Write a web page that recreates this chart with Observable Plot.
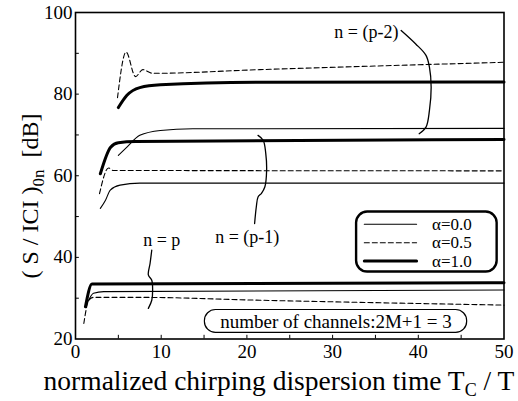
<!DOCTYPE html>
<html><head><meta charset="utf-8">
<script src="https://cdn.jsdelivr.net/npm/d3@7"></script>
<script src="https://cdn.jsdelivr.net/npm/@observablehq/plot@0.6"></script>
<style>
body{margin:0;background:#fff}
</style>
</head><body><div id="chart"></div>
<script>
// ---- tick labels ----
const xTicks = [0, 10, 20, 30, 40, 50];
const yTicks = [20, 40, 60, 80, 100];
const xMinorTicks = [5, 10, 15, 20, 25, 30, 35, 40, 45];
const yMinorTicks = [30, 40, 50, 60, 70, 80, 90];

// ---- series: n = (p-2) ----
const p2_a00_x = [5.0, 6.0, 7.5, 9.9, 13.7, 50];
const p2_a00_y = [65.0, 67.0, 69.9, 71.1, 71.5, 71.6];
const p2_a05_x = [4.9, 5.9, 7.0, 7.85, 9.0, 21.5, 50];
const p2_a05_y = [79.1, 90.3, 84.3, 86.0, 85.1, 86.0, 87.8];
const p2_a10_x = [5.0, 6.0, 7.5, 9.9, 21.5, 50];
const p2_a10_y = [76.7, 79.7, 81.6, 82.3, 82.9, 83.0];
// ---- series: n = (p-1) ----
const p1_a00_x = [2.9, 3.5, 4.06, 5.2, 7.5, 50];
const p1_a00_y = [52.0, 54.0, 56.5, 57.7, 58.2, 58.2];
const p1_a05_x = [2.8, 3.86, 4.4, 50];
const p1_a05_y = [55.6, 61.9, 61.3, 61.2];
const p1_a10_x = [2.9, 4.1, 5.0, 7.0, 50];
const p1_a10_y = [60.5, 67.0, 68.1, 68.4, 68.9];
// ---- series: n = p ----
const p0_a00_x = [1.36, 2.1, 3.3, 50];
const p0_a00_y = [28.7, 31.2, 31.6, 32.0];
const p0_a05_x = [0.97, 1.55, 2.1, 7.5, 21.5, 50];
const p0_a05_y = [23.8, 29.5, 30.2, 30.2, 29.5, 28.3];
const p0_a10_x = [1.16, 1.93, 50];
const p0_a10_y = [27.9, 33.5, 33.8];

const alphaLabels = ["α=0.0", "α=0.5", "α=1.0"];
const groupLabels = ["n = (p-2)", "n = (p-1)", "n = p"];
const channelsLabel = "number of channels:2M+1 = 3";

const series = [
  {n: "p-2", a: 0, xs: p2_a00_x, ys: p2_a00_y},
  {n: "p-2", a: 1, xs: p2_a05_x, ys: p2_a05_y},
  {n: "p-2", a: 2, xs: p2_a10_x, ys: p2_a10_y},
  {n: "p-1", a: 0, xs: p1_a00_x, ys: p1_a00_y},
  {n: "p-1", a: 1, xs: p1_a05_x, ys: p1_a05_y},
  {n: "p-1", a: 2, xs: p1_a10_x, ys: p1_a10_y},
  {n: "p",   a: 0, xs: p0_a00_x, ys: p0_a00_y},
  {n: "p",   a: 1, xs: p0_a05_x, ys: p0_a05_y},
  {n: "p",   a: 2, xs: p0_a10_x, ys: p0_a10_y}
];
const rows = series.flatMap(s => s.xs.map((x, i) => ({x, y: s.ys[i], key: s.n + "|" + s.a, a: s.a})));

const FONT = "Liberation Serif";

// line styles per alpha
const styles = [
  {strokeWidth: 1.1},
  {strokeWidth: 1.1, strokeDasharray: "5,3"},
  {strokeWidth: 3}
];

// ---- annotation layout (data coordinates) ----
const braceP2 = [[38.0,95.6],[39.7,92.3],[40.9,89.5],[41.3,86.6],[41.5,81.7],[41.3,76.0],[40.9,71.9],[40.1,70.3]];
const braceP1 = [[21.3,69.9],[21.9,68.7],[22.2,65.5],[22.3,61.3],[22.1,57.3],[21.7,55.7],[21.3,54.8],[21.1,52.4],[20.9,48.3]];
const braceP0 = [[8.9,41.8],[8.7,38.5],[8.5,35.7],[8.9,34.4],[9.0,32.0],[8.9,29.5],[8.5,27.5]];
const groupTextPos = [[30.2, 95.2], [16.3, 45.0], [7.9, 44.3]];
const legendBox = {x1: 32.8, x2: 49.2, y1: 36.4, y2: 51.1};
const legendRowsY = [48.1, 43.6, 39.1];
const legendLineX = [33.7, 39.8];
const legendTextX = 41.6;
const chanBox = {x1: 15.1, x2: 45.7, y1: 21.5, y2: 27.1};

const marks = [];
// inward minor ticks
marks.push(Plot.ruleX(xMinorTicks, {x: d => d, y1: 20, y2: 20.9, stroke: "black", strokeWidth: 1}));
marks.push(Plot.ruleY(yMinorTicks, {y: d => d, x1: 0, x2: 0.45, stroke: "black", strokeWidth: 1}));

for (let a = 0; a < 3; a++) {
  marks.push(Plot.line(rows.filter(r => r.a === a), {x: "x", y: "y", z: "key", stroke: "black", curve: "monotone-x", ...styles[a]}));
}
// braces
for (const b of [braceP2, braceP1, braceP0]) {
  marks.push(Plot.line(b, {x: d => d[0], y: d => d[1], stroke: "black", strokeWidth: 1.3, curve: "catmull-rom"}));
}
// group labels
marks.push(Plot.text(groupLabels, {x: (d, i) => groupTextPos[i][0], y: (d, i) => groupTextPos[i][1], text: d => d, textAnchor: "start", fontSize: 18, fontFamily: FONT, fill: "black"}));
// legend
marks.push(Plot.rect([legendBox], {x1: "x1", x2: "x2", y1: "y1", y2: "y2", rx: 11, fill: "white", stroke: "black", strokeWidth: 2.4}));
for (let a = 0; a < 3; a++) {
  marks.push(Plot.line([[legendLineX[0], legendRowsY[a]], [legendLineX[1], legendRowsY[a]]], {x: d => d[0], y: d => d[1], stroke: "black", ...styles[a]}));
}
marks.push(Plot.text(alphaLabels, {x: legendTextX, y: (d, i) => legendRowsY[i], text: d => d, textAnchor: "start", fontSize: 17, fontFamily: FONT, fill: "black"}));
// channels box
marks.push(Plot.rect([chanBox], {x1: "x1", x2: "x2", y1: "y1", y2: "y2", rx: 11, fill: "white", stroke: "black", strokeWidth: 1.2}));
marks.push(Plot.text([channelsLabel], {x: (chanBox.x1 + chanBox.x2) / 2, y: (chanBox.y1 + chanBox.y2) / 2, text: d => d, fontSize: 19, fontFamily: FONT, fill: "black"}));
// frame & axes
marks.push(Plot.frame({stroke: "black", strokeWidth: 1.6}));
marks.push(Plot.axisX(xTicks, {tickSize: 0, tickPadding: 5, fontSize: 19, fontFamily: FONT, label: null}));
marks.push(Plot.axisY(yTicks, {tickSize: 0, tickPadding: 3, fontSize: 19, fontFamily: FONT, label: null}));

const chart = Plot.plot({
  width: 518,
  height: 401,
  marginLeft: 75,
  marginRight: 14.5,
  marginTop: 12,
  marginBottom: 62.5,
  x: {domain: [0, 50]},
  y: {domain: [20, 100]},
  style: {color: "black", background: "white"},
  marks
});
document.getElementById("chart").appendChild(chart);
chart.style.fontFamily = FONT;
d3.select(chart).selectAll("text").attr("font-family", FONT).style("font-family", FONT);

// axis titles with subscripts
const svg = d3.select(chart);
const xt = svg.append("text").attr("x", 279).attr("y", 390).attr("text-anchor", "middle")
  .attr("font-size", 27.5).attr("fill", "black").attr("font-family", FONT).style("font-family", FONT);
xt.append("tspan").text("normalized chirping dispersion time T");
xt.append("tspan").attr("font-size", 18).attr("dy", 6).text("C");
xt.append("tspan").attr("dy", -6).text("\u00a0/ T");

const yt = svg.append("text").attr("transform", "translate(38,196) rotate(-90)").attr("text-anchor", "middle")
  .attr("font-size", 24).attr("fill", "black").attr("font-family", FONT).style("font-family", FONT);
yt.append("tspan").text("( S / ICI )");
yt.append("tspan").attr("font-size", 17).attr("dy", 6).text("0n");
yt.append("tspan").attr("dy", -6).text("\u00a0\u00a0[dB]");
</script>
</body></html>
